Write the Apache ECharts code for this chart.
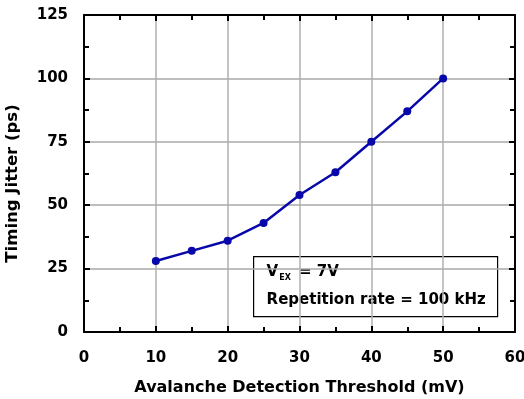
<!DOCTYPE html>
<html>
<head>
<meta charset="utf-8">
<script src="https://cdn.jsdelivr.net/npm/echarts@6/dist/echarts.min.js"></script>
<style>
  html, body { margin: 0; padding: 0; background: #fff; }
  #chart { width: 524px; height: 399px; }
</style>
</head>
<body>
<div id="chart"></div>
<script>
var thresholds = [10, 15, 20, 25, 30, 35, 40, 45, 50];
var jitter = [28, 32, 36, 43, 54, 63, 75, 87, 100];
var xTicks = [0, 10, 20, 30, 40, 50, 60];
var yTicks = [0, 25, 50, 75, 100, 125];

var myChart = echarts.init(document.getElementById('chart'));
var font = 'DejaVu Sans, sans-serif';

// 四条边框轴都画内向刻度
function frameAxis(extra) {
    return Object.assign({
        type: 'value',
        axisLine: { show: true, onZero: false, lineStyle: { color: '#000', width: 2 } },
        axisTick: { show: true, inside: true, length: 6, lineStyle: { color: '#000', width: 2 } },
        minorTick: { show: true, splitNumber: 2, length: 5, lineStyle: { color: '#000', width: 2 } },
        splitLine: { show: false },
        axisLabel: { show: false }
    }, extra);
}

var labelStyle = { color: '#000', fontFamily: font, fontWeight: 'bold', fontSize: 15 };

var option = {
    animation: false,
    grid: { left: 84, right: 9, top: 15, bottom: 67, outerBoundsMode: 'none' },
    xAxis: [
        frameAxis({
            min: xTicks[0], max: xTicks[xTicks.length - 1], interval: 10,
            name: 'Avalanche Detection Threshold (mV)',
            nameLocation: 'middle', nameGap: 48,
            nameTextStyle: { color: '#000', fontFamily: font, fontWeight: 'bold', fontSize: 16 },
            axisLabel: Object.assign({ show: true, margin: 19 }, labelStyle),
            splitLine: { show: true, lineStyle: { color: '#b0b0b0', width: 1.5 } }
        }),
        frameAxis({ position: 'top', min: 0, max: 60, interval: 10 })
    ],
    yAxis: [
        frameAxis({
            min: yTicks[0], max: yTicks[yTicks.length - 1], interval: 25,
            name: 'Timing Jitter (ps)',
            nameLocation: 'middle', nameGap: 63, nameRotate: 90,
            nameTextStyle: { color: '#000', fontFamily: font, fontWeight: 'bold', fontSize: 16.5, padding: [0, 20, 0, 0] },
            axisLabel: Object.assign({ show: true, margin: 16 }, labelStyle),
            splitLine: { show: true, lineStyle: { color: '#a8a8a8', width: 1.5 } }
        }),
        frameAxis({ position: 'right', min: 0, max: 125, interval: 25 })
    ],
    series: [{
        type: 'line',
        data: thresholds.map(function (t, i) { return [t, jitter[i]]; }),
        symbol: 'circle',
        symbolSize: 8,
        lineStyle: { color: '#0808aa', width: 2.5 },
        itemStyle: { color: '#0808aa' },
        z: 5
    }],
    graphic: [{
        type: 'group',
        left: 253, top: 256,
        z: 10,
        children: [{
            type: 'rect',
            shape: { x: 0, y: 0, width: 244, height: 60 },
            style: { fill: '#fff', stroke: '#000', lineWidth: 1.2 }
        }, {
            type: 'text',
            left: 13, top: 8,
            style: {
                text: '{v|V}{s|EX}{v| = 7V}',
                rich: {
                    v: { fontFamily: font, fontWeight: 'bold', fontSize: 15, fill: '#000' },
                    s: { fontFamily: font, fontWeight: 'bold', fontSize: 8, fill: '#000', padding: [12, 3, 0, 1] }
                }
            }
        }, {
            type: 'text',
            left: 13, top: 36,
            style: { text: 'Repetition rate = 100 kHz', font: 'bold 15px ' + font, fill: '#000' }
        }]
    }]
};

myChart.setOption(option);
window.addEventListener("resize", function () {
    myChart.resize();
});
</script>
</body>
</html>
